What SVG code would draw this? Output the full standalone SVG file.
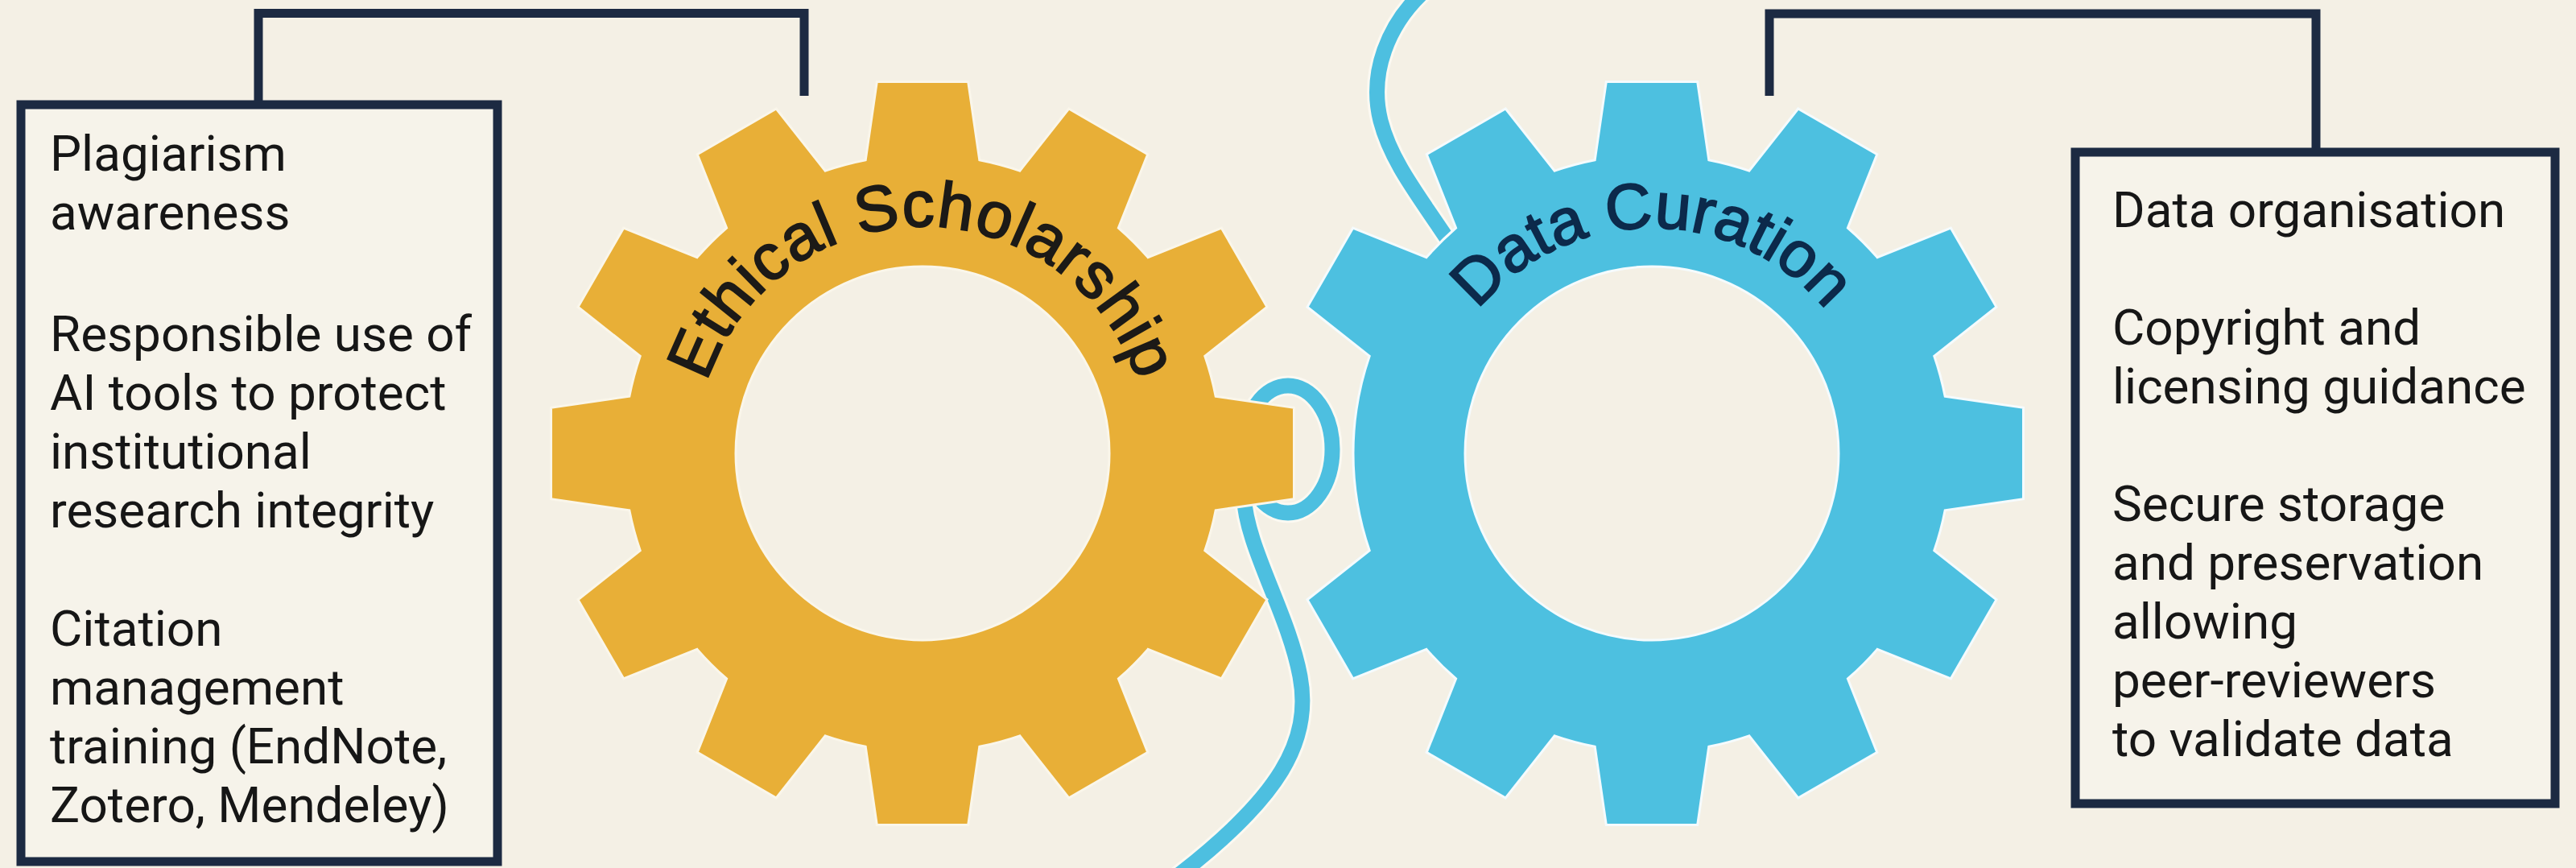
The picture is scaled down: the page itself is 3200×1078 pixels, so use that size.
<svg xmlns="http://www.w3.org/2000/svg" xmlns:xlink="http://www.w3.org/1999/xlink" width="3200" height="1078" viewBox="0 0 3200 1078">
  <style>
    .bg { fill: #F4F0E5; }
    .box { fill: #F6F3EA; stroke: #1C2A42; stroke-width: 11; }
    .conn { fill: none; stroke: #1C2A42; stroke-width: 11; stroke-linejoin: miter; }
    .cable { fill: none; stroke: #4DBFE0; stroke-width: 19; stroke-linecap: butt; }
    .halo { fill: none; stroke: #FBF9F2; stroke-width: 25; }
    .body { font-family: Roboto, "Liberation Sans", Arial, sans-serif; font-size: 62px; fill: #161616; }
    .gearY { fill: #E8AF37; stroke: #FAF6EA; stroke-width: 3; fill-rule: evenodd; }
    .gearB { fill: #4DC0E0; stroke: #F5FBFD; stroke-width: 3; fill-rule: evenodd; }
    .glabel { font-family: "Liberation Sans", Arial, Helvetica, sans-serif; font-weight: normal; stroke-width: 2; }
  </style>
  <defs>
    <path id="arcE" d="M 864 563 A 282 282 0 0 1 1428 563"/>
    <path id="arcD" d="M 1772 563 A 280 280 0 0 1 2332 563"/>
  </defs>

  <rect class="bg" x="0" y="0" width="3200" height="1078"/>

  <g id="connectors">
    <polyline class="conn" points="321,130 321,16.5 999,16.5 999,119"/>
    <polyline class="conn" points="2877,189 2877,17 2198,17 2198,119"/>
    <g id="cable">
      <path class="halo" d="M 1768 -10 C 1725 30, 1700 90, 1715 150 C 1728 200, 1760 240, 1800 300"/>
      <path class="halo" d="M 1545 615 C 1548 680, 1600 760, 1615 840 C 1630 920, 1590 990, 1460 1090"/>
      <ellipse class="halo" cx="1600" cy="558" rx="55" ry="79"/>
      <path class="cable" d="M 1768 -10 C 1725 30, 1700 90, 1715 150 C 1728 200, 1760 240, 1800 300"/>
      <path class="cable" d="M 1545 615 C 1548 680, 1600 760, 1615 840 C 1630 920, 1590 990, 1460 1090"/>
      <ellipse class="cable" cx="1600" cy="558" rx="55" ry="79"/>
    </g>
  </g>

  <g id="node-left-box">
    <rect class="box" x="26" y="130" width="592" height="940"/>
    <text class="body">
      <tspan x="62" y="212">Plagiarism</tspan>
      <tspan x="62" y="285">awareness</tspan>
      <tspan x="62" y="436">Responsible use of</tspan>
      <tspan x="62" y="509">AI tools to protect</tspan>
      <tspan x="62" y="582">institutional</tspan>
      <tspan x="62" y="655">research integrity</tspan>
      <tspan x="62" y="802">Citation</tspan>
      <tspan x="62" y="875">management</tspan>
      <tspan x="62" y="948">training (EndNote,</tspan>
      <tspan x="62" y="1021">Zotero, Mendeley)</tspan>
    </text>
  </g>

  <g id="node-ethical-scholarship">
    <path class="gearY" transform="translate(1146,563)" d="M 364.2 -70.8 L 461.5 -56.7 L 461.5 56.7 L 364.2 70.8 A 371 371 0 0 1 350.8 120.8 L 428 181.7 L 371.4 279.8 L 280 243.4 A 371 371 0 0 1 243.4 280 L 279.8 371.4 L 181.7 428 L 120.8 350.8 A 371 371 0 0 1 70.8 364.2 L 56.7 461.5 L -56.7 461.5 L -70.8 364.2 A 371 371 0 0 1 -120.8 350.8 L -181.7 428 L -279.8 371.4 L -243.4 280 A 371 371 0 0 1 -280 243.4 L -371.4 279.8 L -428 181.7 L -350.8 120.8 A 371 371 0 0 1 -364.2 70.8 L -461.5 56.7 L -461.5 -56.7 L -364.2 -70.8 A 371 371 0 0 1 -350.8 -120.8 L -428 -181.7 L -371.4 -279.8 L -280 -243.4 A 371 371 0 0 1 -243.4 -280 L -279.8 -371.4 L -181.7 -428 L -120.8 -350.8 A 371 371 0 0 1 -70.8 -364.2 L -56.7 -461.5 L 56.7 -461.5 L 70.8 -364.2 A 371 371 0 0 1 120.8 -350.8 L 181.7 -428 L 279.8 -371.4 L 243.4 -280 A 371 371 0 0 1 280 -243.4 L 371.4 -279.8 L 428 -181.7 L 350.8 -120.8 A 371 371 0 0 1 364.2 -70.8 Z M 232 0 A 232 232 0 1 0 -232 0 A 232 232 0 1 0 232 0 Z"/>
    <text class="glabel" font-size="80" letter-spacing="1.3" fill="#1C1A17" stroke="#1C1A17"><textPath xlink:href="#arcE" href="#arcE" startOffset="50%" text-anchor="middle">Ethical Scholarship</textPath></text>
  </g>

  <g id="node-data-curation">
    <path class="gearB" transform="translate(2052,563)" d="M 364.2 -70.8 L 461.5 -56.7 L 461.5 56.7 L 364.2 70.8 A 371 371 0 0 1 350.8 120.8 L 428 181.7 L 371.4 279.8 L 280 243.4 A 371 371 0 0 1 243.4 280 L 279.8 371.4 L 181.7 428 L 120.8 350.8 A 371 371 0 0 1 70.8 364.2 L 56.7 461.5 L -56.7 461.5 L -70.8 364.2 A 371 371 0 0 1 -120.8 350.8 L -181.7 428 L -279.8 371.4 L -243.4 280 A 371 371 0 0 1 -280 243.4 L -371.4 279.8 L -428 181.7 L -350.8 120.8 A 371 371 0 0 1 -350.8 -120.8 L -428 -181.7 L -371.4 -279.8 L -280 -243.4 A 371 371 0 0 1 -243.4 -280 L -279.8 -371.4 L -181.7 -428 L -120.8 -350.8 A 371 371 0 0 1 -70.8 -364.2 L -56.7 -461.5 L 56.7 -461.5 L 70.8 -364.2 A 371 371 0 0 1 120.8 -350.8 L 181.7 -428 L 279.8 -371.4 L 243.4 -280 A 371 371 0 0 1 280 -243.4 L 371.4 -279.8 L 428 -181.7 L 350.8 -120.8 A 371 371 0 0 1 364.2 -70.8 Z M 232 0 A 232 232 0 1 0 -232 0 A 232 232 0 1 0 232 0 Z"/>
    <text class="glabel" font-size="80" fill="#0C2A4B" stroke="#0C2A4B"><textPath xlink:href="#arcD" href="#arcD" startOffset="50%" text-anchor="middle">Data Curation</textPath></text>
  </g>

  <g id="node-right-box">
    <rect class="box" x="2578" y="189" width="596" height="809"/>
    <text class="body">
      <tspan x="2624" y="282">Data organisation</tspan>
      <tspan x="2624" y="428">Copyright and</tspan>
      <tspan x="2624" y="501">licensing guidance</tspan>
      <tspan x="2624" y="647">Secure storage</tspan>
      <tspan x="2624" y="720">and preservation</tspan>
      <tspan x="2624" y="793">allowing</tspan>
      <tspan x="2624" y="866">peer-reviewers</tspan>
      <tspan x="2624" y="939">to validate data</tspan>
    </text>
  </g>
</svg>
